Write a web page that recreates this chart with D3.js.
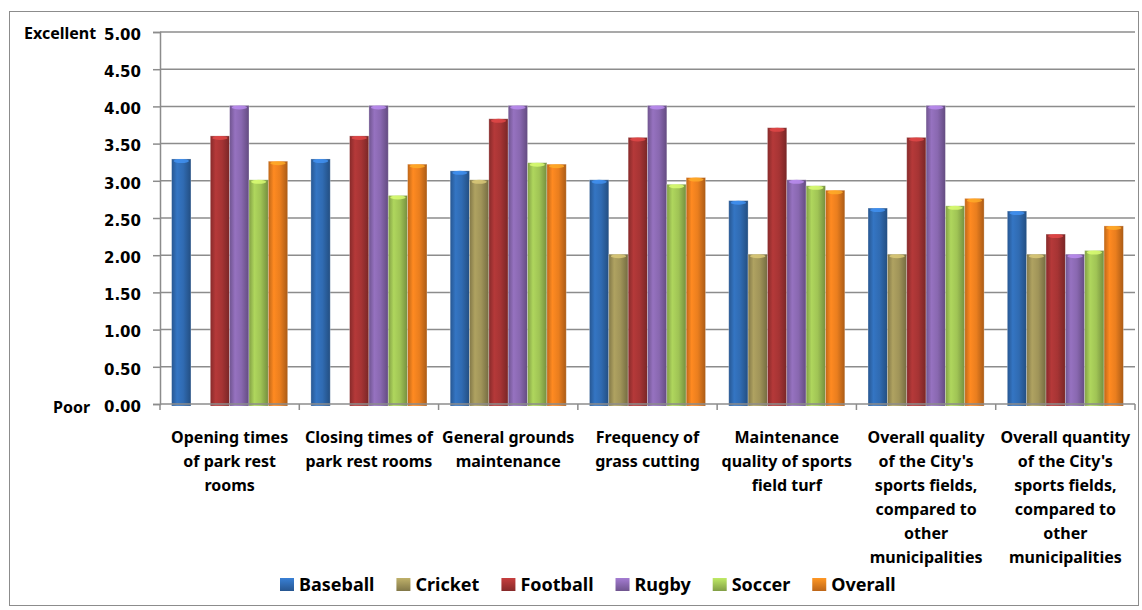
<!DOCTYPE html>
<html>
<head>
<meta charset="utf-8">
<script src="https://cdn.jsdelivr.net/npm/d3@7"></script>
<style>
  body { margin: 0; background: #fff; }
  text { font-family: "Noto Sans", sans-serif; font-weight: bold; fill: #000; }
</style>
</head>
<body>
<div id="chart"></div>
<script>
// Donnees
const categories = [
  "Opening times\nof park rest\nrooms",
  "Closing times of\npark rest rooms",
  "General grounds\nmaintenance",
  "Frequency of\ngrass cutting",
  "Maintenance\nquality of sports\nfield turf",
  "Overall quality\nof the City's\nsports fields,\ncompared to\nother\nmunicipalities",
  "Overall quantity\nof the City's\nsports fields,\ncompared to\nother\nmunicipalities"
];
const seriesNames = ["Baseball", "Cricket", "Football", "Rugby", "Soccer", "Overall"];
const baseball = [3.28, 3.28, 3.12, 3.00, 2.72, 2.62, 2.58];
const cricket  = [null, null, 3.00, 2.00, 2.00, 2.00, 2.00];
const football = [3.59, 3.59, 3.82, 3.57, 3.70, 3.57, 2.27];
const rugby    = [4.00, 4.00, 4.00, 4.00, 3.00, 4.00, 2.00];
const soccer   = [3.00, 2.79, 3.23, 2.94, 2.92, 2.65, 2.05];
const overall  = [3.25, 3.21, 3.21, 3.03, 2.86, 2.75, 2.38];
const yTicks = [0, 0.5, 1, 1.5, 2, 2.5, 3, 3.5, 4, 4.5, 5];
const colors = ["#306bb2", "#a09459", "#a63434", "#8968b0", "#a0c455", "#ea7e1e"];

const values = [baseball, cricket, football, rugby, soccer, overall];

const W = 1142, H = 610;
const plotLeft = 160, plotRight = 1135, plotTop = 32, plotBottom = 404;

const svg = d3.select("#chart").append("svg")
    .attr("width", W).attr("height", H);

// Degrades pour l'effet 3D
const defs = svg.append("defs");
seriesNames.forEach((s, i) => {
  const c = d3.color(colors[i]);
  const g = defs.append("linearGradient").attr("id", "g" + i)
      .attr("x1", "0").attr("x2", "1").attr("y1", "0").attr("y2", "0");
  g.append("stop").attr("offset", "0%").attr("stop-color", c.darker(0.6));
  g.append("stop").attr("offset", "28%").attr("stop-color", c.brighter(0.25));
  g.append("stop").attr("offset", "60%").attr("stop-color", c);
  g.append("stop").attr("offset", "100%").attr("stop-color", c.darker(0.9));
  const gv = defs.append("linearGradient").attr("id", "gl" + i)
      .attr("x1", "0").attr("x2", "0").attr("y1", "0").attr("y2", "1");
  gv.append("stop").attr("offset", "0%").attr("stop-color", c.brighter(0.5));
  gv.append("stop").attr("offset", "100%").attr("stop-color", c.darker(0.6));
});

// Cadre exterieur
svg.append("rect")
    .attr("x", 9.5).attr("y", 11.5)
    .attr("width", 1129).attr("height", 594)
    .attr("fill", "none").attr("stroke", "#8c8c8c").attr("stroke-width", 1);

const x = d3.scaleBand().domain(categories).range([plotLeft, plotRight]);
const xs = d3.scaleBand().domain(seriesNames).range([0, x.bandwidth()]).paddingOuter(0.6);
const y = d3.scaleLinear().domain([0, 5]).range([plotBottom, plotTop]);

// Grille horizontale
svg.append("g").selectAll("line")
    .data(yTicks.slice(1))
    .join("line")
    .attr("x1", plotLeft).attr("x2", plotRight)
    .attr("y1", d => y(d)).attr("y2", d => y(d))
    .attr("stroke", "#8c8c8c").attr("stroke-width", 1.5);

// Axe Y
const yAxis = svg.append("g")
    .attr("transform", `translate(${plotLeft},0)`)
    .call(d3.axisLeft(y).tickValues(yTicks).tickFormat(d3.format(".2f")).tickSize(7).tickPadding(12));
yAxis.select(".domain").attr("stroke", "#8c8c8c").attr("stroke-width", 1.5);
yAxis.selectAll(".tick line").attr("stroke", "#8c8c8c").attr("stroke-width", 1.5);
yAxis.selectAll(".tick text")
    .attr("dy", "0.48em")
    .style("font-family", "DejaVu Sans").style("font-weight", "bold")
    .style("font-size", "15px").attr("fill", "#000");

svg.append("text").attr("x", 24).attr("y", 39).style("font-size", "16px").text("Excellent");
svg.append("text").attr("x", 53).attr("y", 413).style("font-size", "16px").text("Poor");

// Barres
seriesNames.forEach((s, i) => {
  const g = svg.append("g");
  const data = categories.map((c, k) => ({c: c, v: values[i][k]})).filter(d => d.v != null);
  g.selectAll("rect.bar")
      .data(data)
      .join("rect")
      .attr("class", "bar")
      .attr("x", d => x(d.c) + xs(s))
      .attr("y", d => y(d.v) - 1)
      .attr("width", xs.bandwidth())
      .attr("height", d => y(0) - y(d.v) + 3)
      .attr("fill", `url(#g${i})`)
      .attr("stroke", "rgba(255,255,255,0.35)")
      .attr("stroke-width", 0.8);
  // reflet sur le dessus
  g.selectAll("ellipse")
      .data(data)
      .join("ellipse")
      .attr("cx", d => x(d.c) + xs(s) + xs.bandwidth() / 2)
      .attr("cy", d => y(d.v) + 1)
      .attr("rx", xs.bandwidth() / 2 - 2)
      .attr("ry", 2)
      .attr("fill", d3.color(colors[i]).brighter(0.9))
      .attr("opacity", 0.8);
});

// Axe X
const xAxis = svg.append("g")
    .attr("transform", `translate(0,${plotBottom})`);
xAxis.append("line")
    .attr("x1", plotLeft).attr("x2", plotRight)
    .attr("stroke", "#8c8c8c").attr("stroke-width", 1.5);
xAxis.selectAll("line.tk")
    .data(categories.map(c => x(c)).concat([plotRight]))
    .join("line").attr("class", "tk")
    .attr("x1", d => d).attr("x2", d => d)
    .attr("y1", 0).attr("y2", 6)
    .attr("stroke", "#8c8c8c").attr("stroke-width", 1.5);

const labels = svg.append("g").selectAll("text")
    .data(categories)
    .join("text")
    .attr("text-anchor", "middle")
    .style("font-size", "16px")
    .attr("transform", d => `translate(${x(d) + x.bandwidth() / 2},${plotBottom + 39})`);
labels.selectAll("tspan")
    .data(d => d.split("\n"))
    .join("tspan")
    .attr("x", 0)
    .attr("y", (d, i) => i * 24)
    .text(d => d);

// Legende
let lx = 280;
const ly = 591;
seriesNames.forEach((s, i) => {
  svg.append("rect")
      .attr("x", lx).attr("y", ly - 13)
      .attr("width", 14).attr("height", 13)
      .attr("fill", `url(#gl${i})`);
  const t = svg.append("text")
      .attr("x", lx + 19).attr("y", ly)
      .style("font-size", "18px")
      .text(s);
  lx = lx + 19 + t.node().getComputedTextLength() + 22;
});
</script>
</body>
</html>
